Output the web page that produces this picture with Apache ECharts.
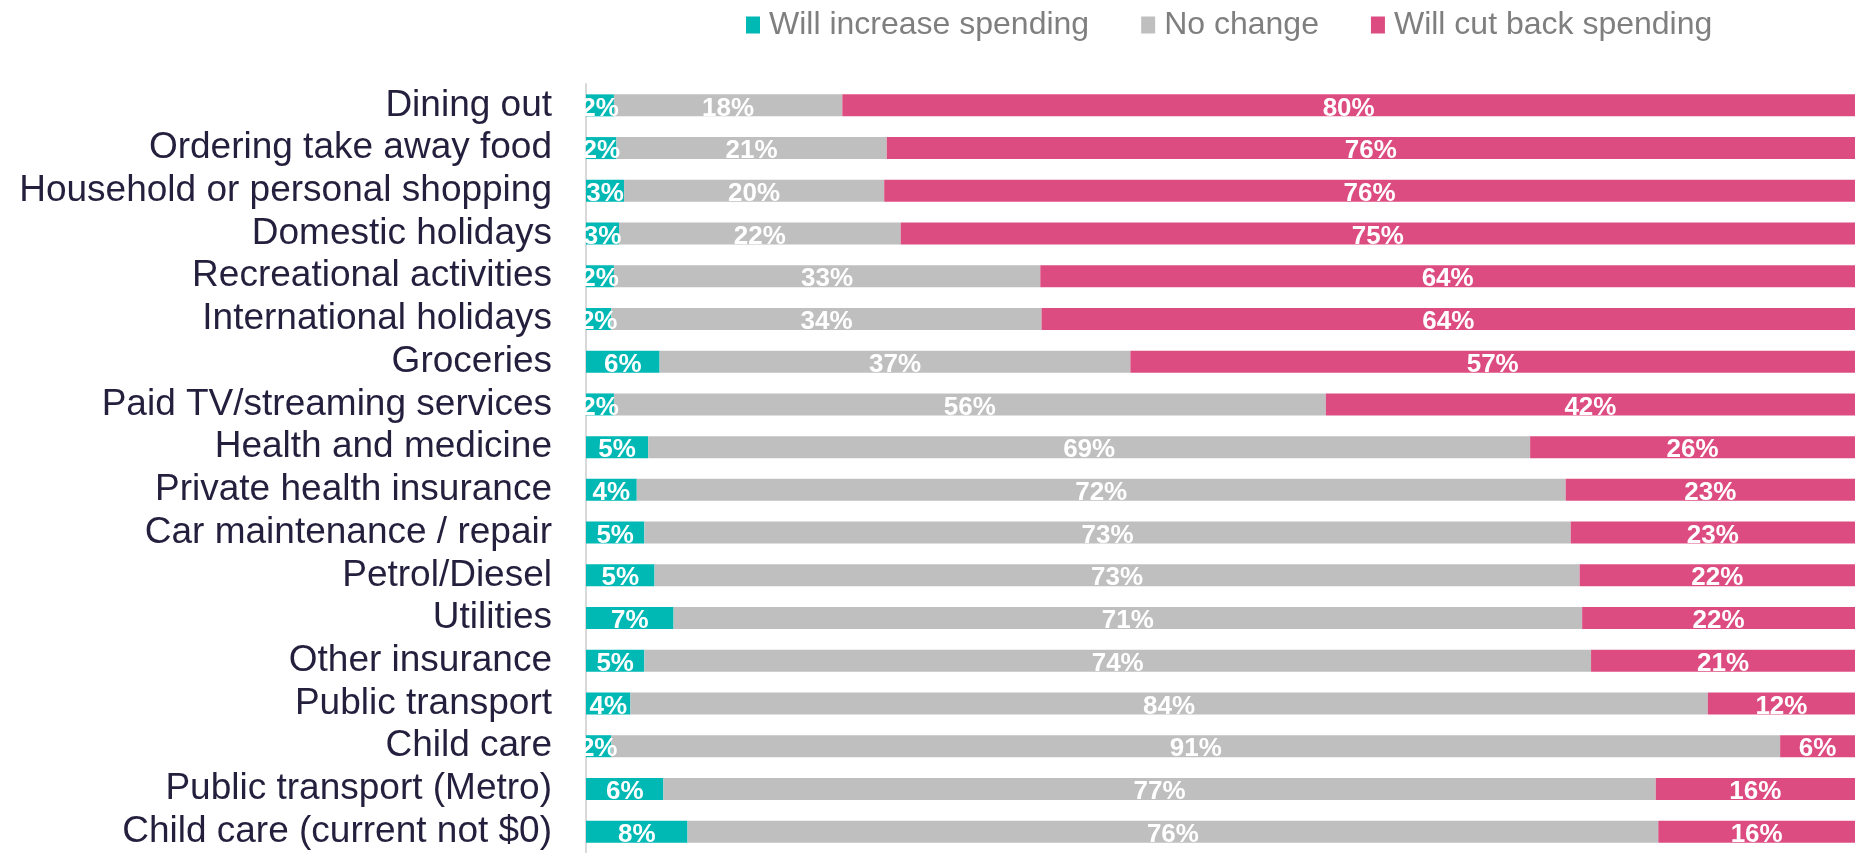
<!DOCTYPE html>
<html>
<head>
<meta charset="utf-8">
<script src="https://cdn.jsdelivr.net/npm/echarts@6/dist/echarts.min.js"></script>
<style>
html,body{margin:0;padding:0;background:#fff;}
#chart{width:1855px;height:853px;}
</style>
</head>
<body>
<div id="chart"></div>
<script>
const categories = [
  "Dining out","Ordering take away food","Household or personal shopping","Domestic holidays",
  "Recreational activities","International holidays","Groceries","Paid TV/streaming services",
  "Health and medicine","Private health insurance","Car maintenance / repair","Petrol/Diesel",
  "Utilities","Other insurance","Public transport","Child care","Public transport (Metro)",
  "Child care (current not $0)"
];
// bar lengths (percent)
const increaseValues = [2.2,2.4,3.0,2.6,2.2,2.0,5.8,2.2,4.9,4.0,4.6,5.4,6.9,4.6,3.5,2.0,6.1,8.0];
const noChangeValues = [18.0,21.3,20.5,22.2,33.6,33.9,37.1,56.1,69.5,73.2,73.0,72.9,71.6,74.6,84.9,92.1,78.2,76.5];
const cutBackValues  = [79.8,76.3,76.5,75.2,64.2,64.1,57.1,41.7,25.6,22.8,22.4,21.7,21.5,20.8,11.6,5.9,15.7,15.5];
// printed labels
const increaseLabels = [2,2,3,3,2,2,6,2,5,4,5,5,7,5,4,2,6,8];
const noChangeLabels = [18,21,20,22,33,34,37,56,69,72,73,73,71,74,84,91,77,76];
const cutBackLabels  = [80,76,76,75,64,64,57,42,26,23,23,22,22,21,12,6,16,16];
const seriesNames = ["Will increase spending","No change","Will cut back spending"];

const chart = echarts.init(document.getElementById('chart'));
function mk(name, vals, labs, color){
  return {
    name: name, type: 'bar', stack: 'total', barWidth: 22,
    data: vals, itemStyle: {color: color},
    label: {
      show: true, position: 'inside', color: '#fff', offset: [0, 3],
      fontFamily: 'Liberation Sans, Arial, sans-serif', fontWeight: 'bold', fontSize: 26,
      formatter: p => labs[p.dataIndex] + '%'
    },
    emphasis: {disabled: true}
  };
}
chart.setOption({
  animation: false,
  legend: {
    left: 741, top: 4, itemWidth: 14, itemHeight: 17, itemGap: 52,
    icon: 'rect',
    textStyle: {color: '#7f7f7f', fontSize: 32, fontFamily: 'Liberation Sans, Arial, sans-serif', padding: [0,0,0,4]},
    data: seriesNames
  },
  grid: {left: 586, right: 0, top: 84, bottom: -3, containLabel: false},
  xAxis: {type: 'value', min: 0, max: 100, show: false},
  yAxis: {
    type: 'category', data: categories, inverse: true,
    axisLine: {show: true, lineStyle: {color: '#d9d9d9', width: 2}},
    axisTick: {show: false},
    axisLabel: {interval: 0, color: '#231f3d', fontSize: 37, fontFamily: 'Liberation Sans, Arial, sans-serif', margin: 34, padding: [4,0,0,0]}
  },
  series: [
    mk(seriesNames[0], increaseValues, increaseLabels, '#00b8b4'),
    mk(seriesNames[1], noChangeValues, noChangeLabels, '#bfbfbf'),
    mk(seriesNames[2], cutBackValues, cutBackLabels, '#dd4c80')
  ]
});
</script>
</body>
</html>
